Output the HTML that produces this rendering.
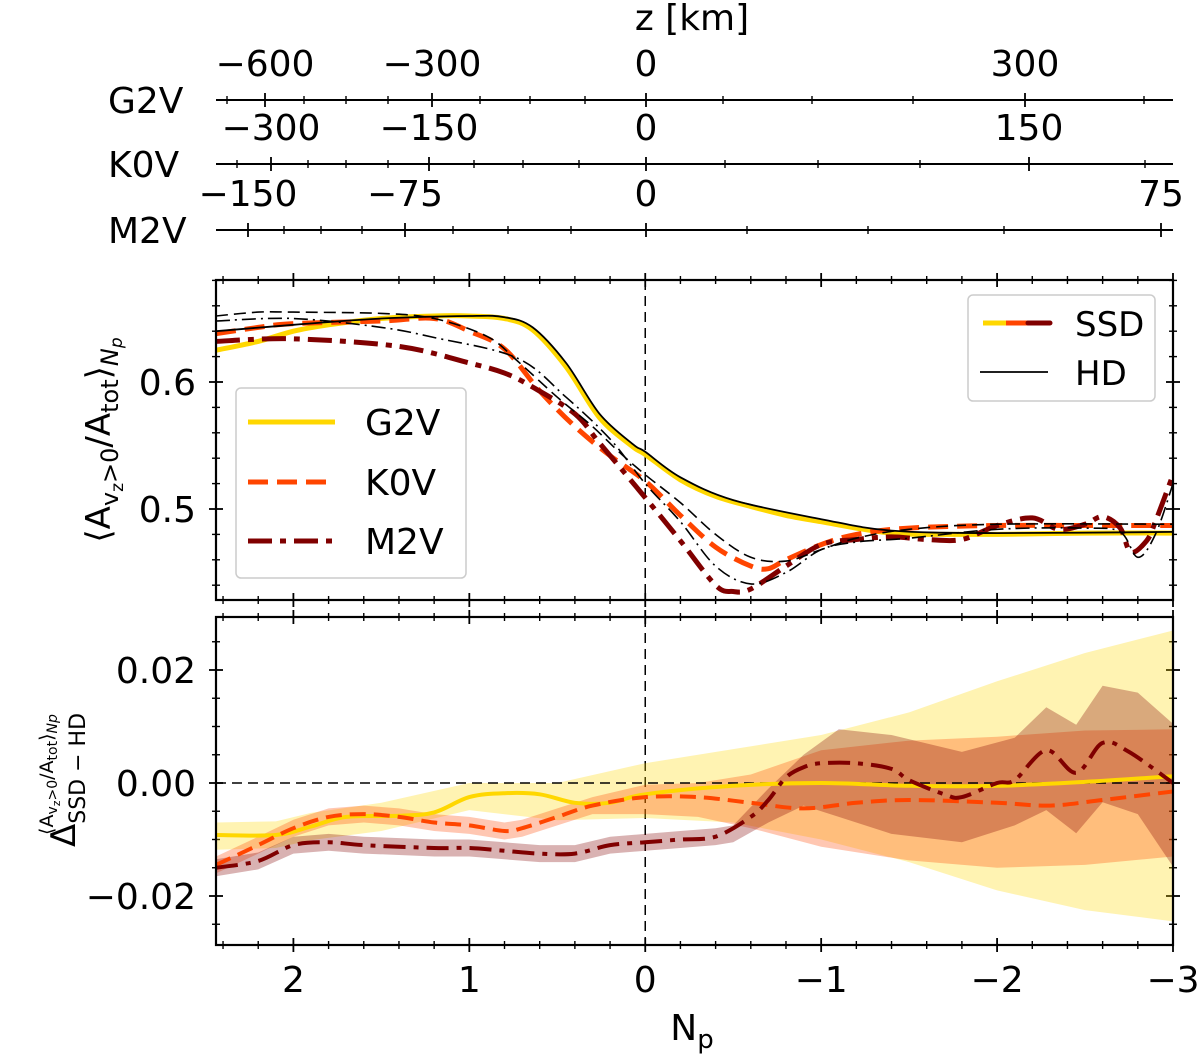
<!DOCTYPE html>
<html><head><meta charset="utf-8"><style>
html,body{margin:0;padding:0;background:#fff;}
svg{display:block;font-family:"DejaVu Sans","Liberation Sans",sans-serif;}
</style></head><body>
<svg id="fig" width="1200" height="1058" viewBox="0 0 1200 1058" xmlns="http://www.w3.org/2000/svg">
<g id="top-axes"></g>
<g id="p1"></g>
<g id="p2"></g>
</svg>
<script>
// ---------- Data ----------
const g2vSsdNp=[2.44,2.2,2.0,1.8,1.5,1.2,1.0,0.8,0.64,0.45,0.26,0.07,0,-0.2,-0.4,-0.6,-0.8,-1.0,-1.2,-1.4,-1.6,-2,-2.5,-3];
const g2vSsdVal=[0.625,0.632,0.640,0.645,0.650,0.652,0.652,0.650,0.641,0.612,0.572,0.549,0.543,0.523,0.51,0.502,0.495,0.49,0.485,0.481,0.48,0.48,0.481,0.481];
const g2vHdNp=[2.44,2,1.5,1,0.8,0.64,0.45,0.26,0.07,0,-0.2,-0.5,-1,-1.4,-2,-3];
const g2vHdVal=[0.640,0.645,0.650,0.652,0.651,0.643,0.615,0.575,0.551,0.545,0.525,0.507,0.492,0.483,0.481,0.482];
const k0vSsdNp=[2.44,2.2,2,1.5,1.2,1.0,0.8,0.6,0.4,0.2,0,-0.2,-0.4,-0.6,-0.7,-0.8,-1.0,-1.2,-1.5,-2,-2.5,-3];
const k0vSsdVal=[0.638,0.643,0.646,0.648,0.650,0.640,0.626,0.593,0.565,0.542,0.522,0.495,0.47,0.455,0.453,0.46,0.472,0.480,0.485,0.487,0.487,0.487];
const k0vHdNp=[2.44,2.2,2,1.5,1.2,0.9,0.73,0.5,0.3,0.15,0,-0.2,-0.4,-0.6,-0.8,-1.0,-1.2,-1.5,-2,-3];
const k0vHdVal=[0.652,0.655,0.655,0.654,0.650,0.636,0.617,0.588,0.565,0.545,0.527,0.505,0.48,0.462,0.459,0.468,0.477,0.484,0.488,0.488];
const m2vSsdNp=[2.44,2,1.4,1.0,0.8,0.64,0.4,0.26,0,-0.2,-0.4,-0.5,-0.6,-0.8,-1.0,-1.2,-1.4,-1.6,-1.8,-2.0,-2.2,-2.35,-2.5,-2.6,-2.7,-2.76,-2.85,-2.9,-3];
const m2vSsdVal=[0.632,0.634,0.628,0.615,0.607,0.596,0.575,0.552,0.509,0.475,0.44,0.435,0.437,0.455,0.472,0.476,0.478,0.476,0.476,0.487,0.493,0.484,0.488,0.494,0.485,0.466,0.475,0.49,0.527];
const m2vHdNp=[2.44,2,1.5,1.2,0.73,0.45,0.2,0,-0.2,-0.4,-0.6,-0.8,-1.0,-1.2,-1.5,-2,-2.5,-2.7,-2.8,-2.9,-3];
const m2vHdVal=[0.648,0.650,0.643,0.635,0.619,0.588,0.555,0.52,0.49,0.455,0.441,0.45,0.468,0.474,0.477,0.484,0.485,0.482,0.462,0.48,0.52];

const g2vDiffNp=[2.44,2.1,1.9,1.7,1.4,1.2,1.0,0.8,0.6,0.4,0.2,0,-0.5,-1,-1.5,-2,-2.5,-3];
const g2vDiffVal=[-0.0092,-0.0092,-0.0077,-0.006,-0.0058,-0.0052,-0.0025,-0.0018,-0.002,-0.0035,-0.0035,-0.002,-0.0005,0,-0.0005,-0.0005,0.0002,0.0012];
const g2vBandNp=[2.44,2.1,1.9,1.5,1.0,0.5,0,-0.5,-1,-1.5,-2,-2.5,-3];
const g2vBandHi=[-0.007,-0.0068,-0.0053,-0.0035,0.0,0.0,0.0035,0.006,0.0085,0.0125,0.018,0.023,0.027];
const g2vBandLo=[-0.0118,-0.0115,-0.0101,-0.0085,-0.0048,-0.0066,-0.0062,-0.007,-0.010,-0.014,-0.019,-0.0225,-0.0245];
const k0vDiffNp=[2.44,2.2,2.0,1.8,1.6,1.4,1.2,1.0,0.8,0.7,0.5,0.3,0,-0.3,-0.6,-0.9,-1.2,-1.5,-2,-2.3,-2.6,-3];
const k0vDiffVal=[-0.0145,-0.011,-0.008,-0.006,-0.0055,-0.006,-0.007,-0.0075,-0.0085,-0.008,-0.006,-0.004,-0.0025,-0.0025,-0.0035,-0.0045,-0.0035,-0.003,-0.0035,-0.004,-0.003,-0.0015];
const k0vBandNp=[2.44,2.2,2.0,1.8,1.6,1.4,1.2,1.0,0.8,0.7,0.5,0.3,0,-0.3,-0.6,-1.0,-1.5,-2.0,-2.5,-3];
const k0vBandHi=[-0.013,-0.0095,-0.0065,-0.0045,-0.004,-0.0045,-0.0055,-0.006,-0.007,-0.0065,-0.0045,-0.0025,-0.0003,0.0,0.0015,0.0058,0.0075,0.0082,0.0093,0.0095];
const k0vBandLo=[-0.016,-0.0125,-0.0095,-0.0075,-0.007,-0.0075,-0.0085,-0.009,-0.010,-0.0095,-0.0075,-0.0055,-0.0055,-0.006,-0.008,-0.0113,-0.0137,-0.015,-0.0145,-0.013];
const m2vDiffNp=[2.44,2.2,2.0,1.8,1.6,1.2,1.0,0.8,0.6,0.4,0.2,0,-0.2,-0.4,-0.6,-0.7,-0.8,-0.9,-1.0,-1.2,-1.4,-1.5,-1.7,-1.8,-2.0,-2.1,-2.28,-2.45,-2.6,-2.75,-3];
const m2vDiffVal=[-0.015,-0.0138,-0.011,-0.0105,-0.011,-0.0115,-0.0115,-0.012,-0.0125,-0.0125,-0.011,-0.0105,-0.010,-0.0095,-0.006,-0.003,0.001,0.0028,0.0035,0.0035,0.0025,0.0005,-0.002,-0.0025,0,0.0005,0.0058,0.0018,0.0071,0.0055,0];
const m2vBandNp=[2.44,2.2,2.0,1.8,1.6,1.2,1.0,0.8,0.6,0.4,0.2,0,-0.2,-0.4,-0.5,-0.7,-0.9,-1.1,-1.4,-1.8,-2.1,-2.28,-2.45,-2.6,-2.8,-3];
const m2vBandHi=[-0.0135,-0.0123,-0.0095,-0.009,-0.0095,-0.010,-0.010,-0.0105,-0.011,-0.011,-0.0095,-0.009,-0.0085,-0.008,-0.0075,-0.001,0.005,0.0095,0.0085,0.0055,0.008,0.0134,0.0103,0.0172,0.016,0.0105];
const m2vBandLo=[-0.0165,-0.0153,-0.0125,-0.012,-0.0125,-0.013,-0.013,-0.0135,-0.014,-0.014,-0.0125,-0.012,-0.0115,-0.011,-0.0105,-0.007,-0.004,-0.006,-0.009,-0.0105,-0.0075,-0.0048,-0.0089,-0.0034,-0.0055,-0.0148];

const npTicks=[2,1,0,-1,-2,-3];
const npTickLabels=["2","1","0","\u22121","\u22122","\u22123"];
const p1YTicks=[0.5,0.6];
const p1YLabels=["0.5","0.6"];
const p2YTicks=[-0.02,0,0.02];
const p2YLabels=["\u22120.02","0.00","0.02"];

const g2vZMajorX=[265,432,646,1025]; const g2vZLabels=["\u2212600","\u2212300","0","300"];
const g2vZMinorX=[227,304,346,388,480,530,585,723,812,913,1144];
const k0vZMajorX=[271,429,646,1029]; const k0vZLabels=["\u2212300","\u2212150","0","150"];
const k0vZMinorX=[237,308,346,388,474,523,579,725,818,920,1145];
const m2vZMajorX=[248,405,646,1161]; const m2vZLabels=["\u2212150","\u221275","0","75"];
const m2vZMinorX=[284,321,362,453,508,571,747,868,1004];

// ---------- Helpers ----------
const NS="http://www.w3.org/2000/svg";
const L=216,R=1173;
const npMin=2.44,npMax=-3;
function xS(n){return L+(n-npMin)/(npMax-npMin)*(R-L);}
const P1={top:280,bot:600}; function y1(v){return 509-(v-0.5)*1270;}
const P2={top:617,bot:945}; function y2(v){return 783-v*5650;}
function el(tag,attrs,parent){const e=document.createElementNS(NS,tag);for(const k in attrs)e.setAttribute(k,attrs[k]);parent.appendChild(e);return e;}
function smoothPath(xs,ys,yf){
  const P=xs.map((n,i)=>[xS(n),yf(ys[i])]);
  let d="M"+P[0][0].toFixed(1)+","+P[0][1].toFixed(1);
  for(let i=0;i<P.length-1;i++){
    const p0=P[Math.max(0,i-1)],p1=P[i],p2=P[i+1],p3=P[Math.min(P.length-1,i+2)];
    const c1x=p1[0]+(p2[0]-p0[0])/6,c1y=p1[1]+(p2[1]-p0[1])/6;
    const c2x=p2[0]-(p3[0]-p1[0])/6,c2y=p2[1]-(p3[1]-p1[1])/6;
    d+=" C"+c1x.toFixed(1)+","+c1y.toFixed(1)+" "+c2x.toFixed(1)+","+c2y.toFixed(1)+" "+p2[0].toFixed(1)+","+p2[1].toFixed(1);
  }
  return d;
}
const FS=36;

// ---------- Top z axes ----------
const ta=document.getElementById('top-axes');
const t0=el('text',{x:692,y:30,'font-size':FS,'text-anchor':'middle'},ta);t0.textContent='z [km]';


function zAxis(yLine,name,majors,labels,minors){
  const g=el('g',{},ta);
  
  
  el('line',{x1:L,x2:R,y1:yLine,y2:yLine,stroke:'#000','stroke-width':2},g);
  const n=el('text',{x:108,y:yLine+13,'font-size':FS},g);n.textContent=name;
  
  
  majors.forEach((x,i)=>{
    el('line',{x1:x,x2:x,y1:yLine-7,y2:yLine+7,stroke:'#000','stroke-width':1.8},g);
    const t=el('text',{x:x,y:yLine-24,'font-size':FS,'text-anchor':'middle'},g);t.textContent=labels[i];
    
    
  });
  minors.forEach(x=>el('line',{x1:x,x2:x,y1:yLine-4,y2:yLine+4,stroke:'#000','stroke-width':1.4},g));
}
zAxis(100,'G2V',g2vZMajorX,g2vZLabels,g2vZMinorX);
zAxis(164,'K0V',k0vZMajorX,k0vZLabels,k0vZMinorX);
zAxis(230,'M2V',m2vZMajorX,m2vZLabels,m2vZMinorX);

// ---------- Frame / ticks ----------
function frame(g,P,yf,yTicks,yLabels,yMinStep,yMin,yMax,showX){
  for(let n=2.4;n>=-3.001;n-=0.2){const x=xS(n);const major=Math.abs(n-Math.round(n))<1e-6;const l=major?7:4;
    [P.top,P.bot].forEach(yy=>el('line',{x1:x,x2:x,y1:yy-l,y2:yy+l,stroke:'#000','stroke-width':major?1.8:1.4},g));}
  for(let v=yMin;v<=yMax+1e-9;v+=yMinStep){const y=yf(v);if(y<P.top||y>P.bot)continue;
    const major=yTicks.some(t=>Math.abs(t-v)<yMinStep/3);const l=major?7:4;
    [L,R].forEach(xx=>el('line',{x1:xx-l,x2:xx+l,y1:y,y2:y,stroke:'#000','stroke-width':major?1.8:1.4},g));}
  yTicks.forEach((v,i)=>{const t=el('text',{x:196,y:yf(v)+13,'font-size':FS,'text-anchor':'end'},g);t.textContent=yLabels[i];
    
    });
  if(showX){npTicks.forEach((n,i)=>{const t=el('text',{x:xS(n),y:P.bot+47,'font-size':FS,'text-anchor':'middle'},g);t.textContent=npTickLabels[i];
    
    });}
  const vl=el('line',{x1:xS(0),x2:xS(0),y1:P.top,y2:P.bot,stroke:'#000','stroke-width':1.5,'stroke-dasharray':'10,6'},g);
  
  
}
function border(g,P){el('rect',{x:L,y:P.top,width:R-L,height:P.bot-P.top,fill:'none',stroke:'#000','stroke-width':2.2},g);}
function line(g,xs,ys,yf,color,w,dash,name){const p=el('path',{d:smoothPath(xs,ys,yf),fill:'none',stroke:color,'stroke-width':w,'stroke-linejoin':'round'},g);
  if(dash)p.setAttribute('stroke-dasharray',dash);
  
  return p;}

// ---------- Panel 1 ----------
const p1=document.getElementById('p1');
const cp1=el('clipPath',{id:'c1'},p1);el('rect',{x:L,y:P1.top,width:R-L,height:P1.bot-P1.top},cp1);
frame(p1,P1,y1,p1YTicks,p1YLabels,0.02,0.42,0.68,false);
const c1=el('g',{'clip-path':'url(#c1)'},p1);
line(c1,g2vSsdNp,g2vSsdVal,y1,'#FFD700',5,null,'g2v-ssd-line');
line(c1,k0vSsdNp,k0vSsdVal,y1,'#FF4500',5,'20,9','k0v-ssd-line');
line(c1,m2vSsdNp,m2vSsdVal,y1,'#800000',5,'24,8,6,8','m2v-ssd-line');
line(c1,g2vHdNp,g2vHdVal,y1,'#000',1.8,null,'g2v-hd-line');
line(c1,k0vHdNp,k0vHdVal,y1,'#000',1.6,'12,6','k0v-hd-line');
line(c1,m2vHdNp,m2vHdVal,y1,'#000',1.6,'14,5,2,5','m2v-hd-line');
border(p1,P1);
const lg=el('g',{},p1);
el('rect',{x:236,y:388,width:230,height:190,rx:5,fill:'#fff','fill-opacity':0.85,stroke:'#ccc','stroke-width':1.5},lg);
[['G2V','#FFD700',null,422],['K0V','#FF4500','20,9',482],['M2V','#800000','24,8,6,8',541]].forEach(e=>{
  const ln=el('line',{x1:248,x2:335,y1:e[3],y2:e[3],stroke:e[1],'stroke-width':5},lg);if(e[2])ln.setAttribute('stroke-dasharray',e[2]);
  const t=el('text',{x:365,y:e[3]+13,'font-size':FS},lg);t.textContent=e[0];
  
  });
const lg2=el('g',{},p1);
el('rect',{x:968,y:295,width:187,height:106,rx:5,fill:'#fff','fill-opacity':0.85,stroke:'#ccc','stroke-width':1.5},lg2);
el('line',{x1:983,x2:1006,y1:323,y2:323,stroke:'#FFD700','stroke-width':5},lg2);
el('line',{x1:1006,x2:1028,y1:323,y2:323,stroke:'#FF4500','stroke-width':5},lg2);
el('line',{x1:1028,x2:1050,y1:323,y2:323,stroke:'#800000','stroke-width':5,'stroke-linecap':'round'},lg2);
el('line',{x1:980,x2:1048,y1:372,y2:372,stroke:'#000','stroke-width':1.8},lg2);
let ts=el('text',{x:1075,y:336,'font-size':34},lg2);ts.textContent='SSD';

ts=el('text',{x:1075,y:385,'font-size':34},lg2);ts.textContent='HD';

const yl1=el('text',{transform:'translate(110,440) rotate(-90)','font-size':34,'text-anchor':'middle'},p1);
yl1.innerHTML='⟨A<tspan font-size="24" dy="8">v</tspan><tspan font-size="17" dy="5">z</tspan><tspan font-size="24" dy="-5">&gt;0</tspan><tspan dy="-8">/A</tspan><tspan font-size="24" dy="8">tot</tspan><tspan dy="-8">⟩</tspan><tspan font-size="24" dy="8" font-style="italic">N</tspan><tspan font-size="17" dy="4" font-style="italic">p</tspan>';



// ---------- Panel 2 ----------
const p2=document.getElementById('p2');
const cp2=el('clipPath',{id:'c2'},p2);el('rect',{x:L,y:P2.top,width:R-L,height:P2.bot-P2.top},cp2);
frame(p2,P2,y2,p2YTicks,p2YLabels,0.005,-0.03,0.03,true);
const c2=el('g',{'clip-path':'url(#c2)'},p2);
function band(xs,hi,lo,color,name){const a=xs.map((n,i)=>xS(n).toFixed(1)+","+y2(hi[i]).toFixed(1));
  const b=xs.map((n,i)=>xS(n).toFixed(1)+","+y2(lo[i]).toFixed(1)).reverse();
  const p=el('polygon',{points:a.concat(b).join(" "),fill:color,'fill-opacity':0.3,stroke:'none','stroke-linejoin':'round'},c2);
  
  }
band(g2vBandNp,g2vBandHi,g2vBandLo,'#FFD700','g2v-band');
band(k0vBandNp,k0vBandHi,k0vBandLo,'#FF4500','k0v-band');
band(m2vBandNp,m2vBandHi,m2vBandLo,'#800000','m2v-band');
const zl=el('line',{x1:L,x2:R,y1:y2(0),y2:y2(0),stroke:'#000','stroke-width':1.5,'stroke-dasharray':'10,6'},c2);

line(c2,g2vDiffNp,g2vDiffVal,y2,'#FFD700',4,null,'g2v-diff-line');
line(c2,k0vDiffNp,k0vDiffVal,y2,'#FF4500',4,'16,8','k0v-diff-line');
line(c2,m2vDiffNp,m2vDiffVal,y2,'#800000',4,'22,8,5,8','m2v-diff-line');
border(p2,P2);
const yl2=el('text',{transform:'translate(75,780) rotate(-90)','font-size':34,'text-anchor':'middle'},p2);
yl2.innerHTML='Δ<tspan font-size="22" dy="10">SSD − HD</tspan><tspan font-size="19" dx="-122" dy="-32">⟨A</tspan><tspan font-size="14" dy="4">v</tspan><tspan font-size="11" dy="3">z</tspan><tspan font-size="14" dy="-3">&gt;0</tspan><tspan font-size="19" dy="-4">/A</tspan><tspan font-size="14" dy="4">tot</tspan><tspan font-size="19" dy="-4">⟩</tspan><tspan font-size="14" dy="4" font-style="italic">Np</tspan>';


const xl=el('text',{x:692,y:1040,'font-size':FS,'text-anchor':'middle'},p2);
xl.innerHTML='N<tspan font-size="26" dy="8">p</tspan>';


</script>
</body></html>
